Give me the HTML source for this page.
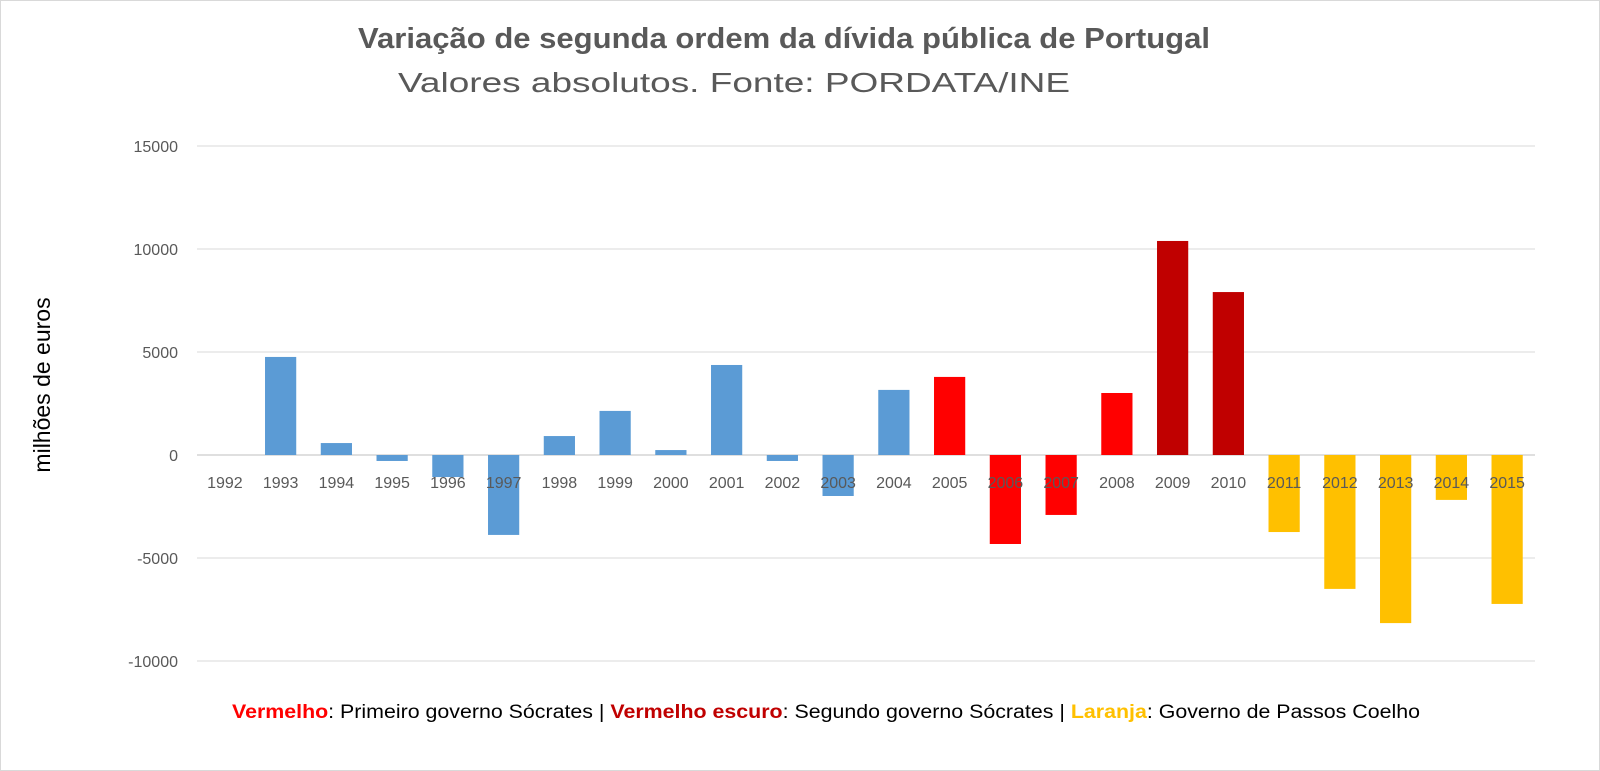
<!DOCTYPE html>
<html><head><meta charset="utf-8"><style>
body{margin:0;background:#fff;}
svg{display:block;font-family:"Liberation Sans",sans-serif;}
</style></head><body>
<svg id="chart" width="1600" height="771" viewBox="0 0 1600 771">
<rect x="0.5" y="0.5" width="1599" height="770" fill="#fff" stroke="#d9d9d9"/>
<text x="358" y="48" textLength="852" lengthAdjust="spacingAndGlyphs" font-size="29" font-weight="bold" fill="#595959">Variação de segunda ordem da dívida pública de Portugal</text>
<text x="398" y="92" textLength="672" lengthAdjust="spacingAndGlyphs" font-size="28" fill="#595959">Valores absolutos. Fonte: PORDATA/INE</text>
<text transform="translate(50,385) rotate(-90)" text-anchor="middle" font-size="23" fill="#000">milhões de euros</text>
<g id="grid"></g><g id="bars"></g><g id="xlabels"></g>
<text x="232" y="718" textLength="1188" lengthAdjust="spacingAndGlyphs" font-size="19" fill="#000"><tspan fill="#ff0000" font-weight="bold">Vermelho</tspan>: Primeiro governo Sócrates | <tspan fill="#c00000" font-weight="bold">Vermelho escuro</tspan>: Segundo governo Sócrates | <tspan fill="#ffc000" font-weight="bold">Laranja</tspan>: Governo de Passos Coelho</text>
</svg>
<script>
const years=["1992","1993","1994","1995","1996","1997","1998","1999","2000","2001","2002","2003","2004","2005","2006","2007","2008","2009","2010","2011","2012","2013","2014","2015"];
const values=[0,4760,580,-290,-1070,-3880,920,2140,240,4370,-290,-1990,3160,3790,-4320,-2910,3010,10390,7910,-3740,-6500,-8160,-2180,-7230];
const groups=["b","b","b","b","b","b","b","b","b","b","b","b","b","r","r","r","r","d","d","o","o","o","o","o"];
const yTicks=[15000,10000,5000,0,-5000,-10000];
const colors={b:"#5b9bd5",r:"#ff0000",d:"#c00000",o:"#ffc000"};
const NS="http://www.w3.org/2000/svg";
const x0=197,x1=1535,y0v=455,pxPer=103/5000;
const y=v=>y0v-v*pxPer;
const band=(x1-x0)/years.length;
const xc=i=>x0+band*(i+0.5);
const g=document.getElementById('grid'),b=document.getElementById('bars'),xl=document.getElementById('xlabels');
yTicks.forEach(t=>{
 const l=document.createElementNS(NS,'line');
 
 
 l.setAttribute('x1',x0);l.setAttribute('x2',x1);l.setAttribute('y1',y(t));l.setAttribute('y2',y(t));
 l.setAttribute('stroke',t===0?'#bfbfbf':'#d9d9d9');l.setAttribute('stroke-width','1');
 g.appendChild(l);
 const tx=document.createElementNS(NS,'text');
 
 
 tx.setAttribute('x',178);tx.setAttribute('y',y(t)+6);tx.setAttribute('text-anchor','end');
 tx.setAttribute('font-size','16');tx.setAttribute('fill','#595959');tx.textContent=t;
 g.appendChild(tx);
});
const bw=band*0.56;
values.forEach((v,i)=>{
 const r=document.createElementNS(NS,'rect');
 
 
 r.setAttribute('x',xc(i)-bw/2);r.setAttribute('width',bw);
 r.setAttribute('y',Math.min(y(v),y(0)));r.setAttribute('height',Math.abs(y(v)-y(0)));
 r.setAttribute('fill',colors[groups[i]]);
 b.appendChild(r);
 const tx=document.createElementNS(NS,'text');
 
 
 tx.setAttribute('x',xc(i));tx.setAttribute('y',y(0)+33);tx.setAttribute('text-anchor','middle');
 tx.setAttribute('font-size','16');tx.setAttribute('fill','#595959');tx.textContent=years[i];
 xl.appendChild(tx);
});
</script>
</body></html>
